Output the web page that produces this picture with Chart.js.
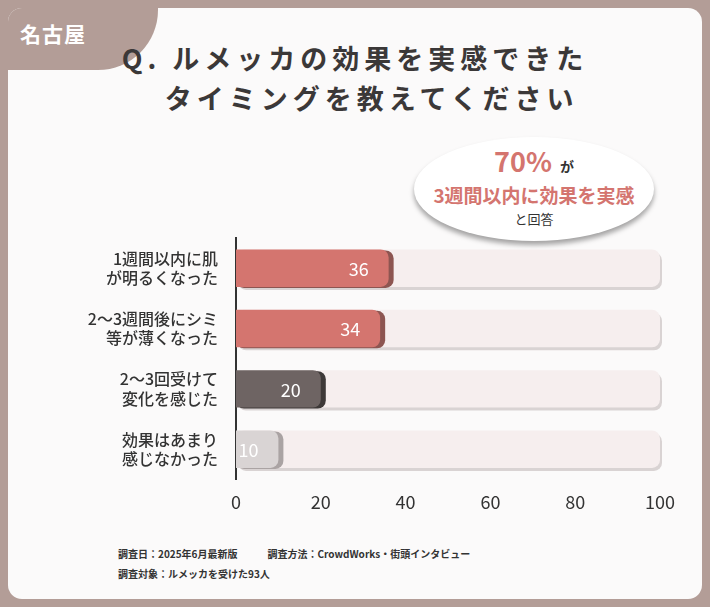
<!DOCTYPE html>
<html><head><meta charset="utf-8">
<script src="https://cdn.jsdelivr.net/npm/chart.js@4"></script>
<style>
body{margin:0;width:710px;height:607px;background:#b39d97;font-family:"Noto Sans CJK JP";overflow:hidden}
#card{position:absolute;left:8px;top:8px;width:694px;height:591px;background:#fbfafa;border-radius:14px;overflow:hidden}
#tab{position:absolute;left:0;top:0;width:150px;height:62px;background:#b39d97;border-bottom-right-radius:60px;color:#fff;font-size:21px;font-weight:bold;padding:10px 0 0 12px;box-sizing:border-box;letter-spacing:1px}
#title{position:absolute;left:0;top:38px;width:710px;text-align:center;font-size:27px;font-weight:bold;color:#3b3838;letter-spacing:5px;line-height:40px}
#bubble{position:absolute;left:414px;top:137px;width:240px;height:104px;background:#fff;border-radius:50%;box-shadow:0 4px 5px rgba(0,0,0,.35);text-align:center}
#foot{position:absolute;left:118px;top:544px;font-size:10px;color:#333;line-height:20px;font-weight:bold}
canvas{position:absolute;left:0;top:0}
</style></head><body>
<div id="card"><div id="tab">名古屋</div></div>
<div id="title">Q. ルメッカの効果を実感できた<br>&nbsp;&nbsp;&nbsp;タイミングを教えてください</div>
<div id="bubble"><div style="margin-top:8px;color:#d4756f;font-size:27px;font-weight:bold;line-height:32px">70%<span style="font-size:14px;color:#333;margin-left:8px">が</span></div>
<div style="color:#d4756f;font-size:19px;font-weight:bold;line-height:26px">3週間以内に効果を実感</div>
<div style="color:#333;font-size:13px;line-height:22px">と回答</div></div>
<div style="position:absolute;left:489px;top:270px;width:11px;height:10px;border-radius:50%;background:#fff;box-shadow:0 2px 3px rgba(0,0,0,.35)"></div>
<div style="position:absolute;left:478px;top:278px;width:6px;height:6px;border-radius:50%;background:#fff;box-shadow:0 1px 2px rgba(0,0,0,.35)"></div>
<div id="foot">調査日：2025年6月最新版　　　調査方法：CrowdWorks・街頭インタビュー<br>調査対象：ルメッカを受けた93人</div>
<canvas id="c" width="710" height="607"></canvas>
<script>
const categories=[["1週間以内に肌","が明るくなった"],["2〜3週間後にシミ","等が薄くなった"],["2〜3回受けて","変化を感じた"],["効果はあまり","感じなかった"]];
const values=[36,34,20,10];
const track=[100,100,100,100];
const barColors=["#d4756f","#d4756f","#6e6463","#d9d4d4"];
const shadowColors=["#8d5551","#8d5551","#3e3938","#aaa3a3"];
const ticks=[0,20,40,60,80,100];
const labelPlugin={id:'lbl',afterDatasetsDraw(ch){const ctx=ch.ctx;const m=ch.getDatasetMeta(1);ctx.save();ctx.font='18px "Noto Sans CJK JP"';ctx.fillStyle='#fff';ctx.textAlign='right';ctx.textBaseline='middle';
m.data.forEach((b,i)=>{ctx.fillText(values[i],b.x-20,b.y+1)});ctx.restore();}};
const shadowPlugin={id:'sh',beforeDatasetsDraw(ch){const ctx=ch.ctx;ctx.save();const t=ch.getDatasetMeta(0);
t.data.forEach(b=>{ctx.fillStyle='#d9d3d3';ctx.beginPath();ctx.roundRect(b.base+2,b.y-b.height/2+3,b.x-b.base,b.height,8);ctx.fill();});ctx.restore();}};
const valShadow={id:'vs',beforeDatasetDraw(ch,args){if(args.index!==1)return;const ctx=ch.ctx;ctx.save();const m=ch.getDatasetMeta(1);
m.data.forEach((b,i)=>{ctx.fillStyle=shadowColors[i];ctx.beginPath();ctx.roundRect(b.base,b.y-b.height/2+1,b.x-b.base+5,b.height,8);ctx.fill();});ctx.restore();}};
new Chart(document.getElementById('c'),{type:'bar',
data:{labels:categories,datasets:[
{data:track,order:2,backgroundColor:'#f6eeee',borderRadius:8,borderSkipped:false,grouped:false,barPercentage:0.62,categoryPercentage:1},
{data:values,order:1,backgroundColor:barColors,borderRadius:{topLeft:0,bottomLeft:0,topRight:8,bottomRight:8},borderSkipped:false,grouped:false,barPercentage:0.62,categoryPercentage:1}]},
options:{indexAxis:'y',responsive:false,animation:false,events:[],
layout:{padding:{left:0,right:50,top:238,bottom:90}},
plugins:{legend:{display:false},tooltip:{enabled:false}},
scales:{x:{min:0,max:100,afterBuildTicks:a=>{a.ticks=ticks.map(v=>({value:v}))},grid:{display:false},border:{display:false},ticks:{color:'#333',font:{size:18,family:'Noto Sans CJK JP'},padding:4}},
y:{grid:{display:false},border:{color:'#333',width:2},afterFit:s=>{s.width=236},ticks:{color:'#333',font:{size:16,family:'Noto Sans CJK JP',weight:'500'},padding:10,lineHeight:1.2}}}},
plugins:[shadowPlugin,valShadow,labelPlugin]});
</script></body></html>
